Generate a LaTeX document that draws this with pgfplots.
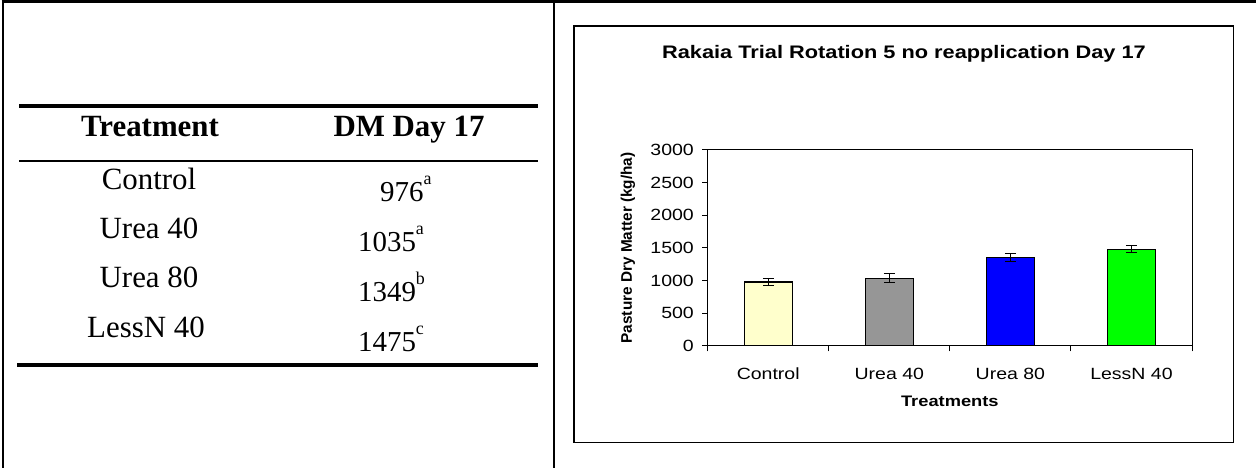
\documentclass[border=0pt]{standalone}
\usepackage{fontspec}
\setmainfont{Liberation Serif}
\newfontfamily\arial{Liberation Sans}
\usepackage{pgfplots}
\pgfplotsset{compat=1.18}
\definecolor{cyel}{HTML}{FFFFCC}
\definecolor{cgray}{HTML}{969696}
\definecolor{cblue}{HTML}{0000FF}
\definecolor{cgreen}{HTML}{00FF00}
\newcommand{\supl}[1]{\raisebox{17bp}{\fontsize{18}{18}\selectfont #1}}
\begin{document}
\begin{tikzpicture}[x=1bp,y=1bp]
\path[use as bounding box] (0,0) rectangle (1256,468);
% outer frame
\draw[line width=2.6bp] (1.7,466.7) -- (1256,466.7);
\draw[line width=2.6bp] (3,0) -- (3,468);
\draw[line width=2.6bp] (554,0) -- (554,468);
% table rules
\draw[line width=4bp] (19,362) -- (538,362);
\draw[line width=2bp] (19,307) -- (538,307);
\draw[line width=4bp] (17,103) -- (538,103);
% table text
\node[anchor=base, inner sep=0pt, font=\fontsize{31}{31}\selectfont\bfseries] at (150,331.3) {Treatment};
\node[anchor=base, inner sep=0pt, font=\fontsize{31}{31}\selectfont\bfseries] at (409,331.3) {DM Day 17};
\node[anchor=base, inner sep=0pt, font=\fontsize{31}{31}\selectfont] at (149,278) {Control};
\node[anchor=base, inner sep=0pt, font=\fontsize{31}{31}\selectfont] at (149,229) {Urea 40};
\node[anchor=base, inner sep=0pt, font=\fontsize{31}{31}\selectfont] at (149,180) {Urea 80};
\node[anchor=base, inner sep=0pt, font=\fontsize{31}{31}\selectfont] at (146,130) {LessN 40};
\node[anchor=base west, inner sep=0pt, font=\fontsize{29}{29}\selectfont] at (380,266) {976\supl{a}};
\node[anchor=base west, inner sep=0pt, font=\fontsize{29}{29}\selectfont] at (358,216) {1035\supl{a}};
\node[anchor=base west, inner sep=0pt, font=\fontsize{29}{29}\selectfont] at (358,166) {1349\supl{b}};
\node[anchor=base west, inner sep=0pt, font=\fontsize{29}{29}\selectfont] at (358,116) {1475\supl{c}};
% chart frame
\draw[line width=1.2bp] (574,25.3) rectangle (1233.7,442);
\node[anchor=base, inner sep=0pt, font=\arial\bfseries\fontsize{18.2}{18.2}\selectfont, xscale=1.2] at (904,409) {Rakaia Trial Rotation 5 no reapplication Day 17};
\begin{axis}[
  at={(707.7bp,122.3bp)}, anchor=south west,
  scale only axis, width=484.3bp, height=195.7bp,
  xmin=-0.5, xmax=3.5, ymin=0, ymax=3000,
  ytick={0,500,1000,1500,2000,2500,3000},
  xtick={0,1,2,3}, xticklabels={Control,Urea 40,Urea 80,LessN 40},
  minor xtick={-0.5,0.5,1.5,2.5,3.5},
  major x tick style={draw=none},
  tick align=outside, tick pos=left,
  major tick length=5.7bp, minor tick length=5.7bp,
  axis line style={line width=1bp},
  every tick/.style={black, line width=1bp},
  /pgf/number format/assume math mode=true,
  /pgf/number format/1000 sep={},
  tick label style={font=\arial\fontsize{16.3}{16.3}\selectfont},
  yticklabel style={anchor=east, inner sep=0pt, xshift=-8bp, xscale=1.2},
  xticklabel style={anchor=base, inner sep=0pt, yshift=-28.6bp, xscale=1.2},
  xlabel={Treatments}, ylabel={Pasture Dry Matter (kg/ha)},
  xlabel style={font=\arial\bfseries\fontsize{15.3}{15.3}\selectfont, at={(axis description cs:0.5,-0.3082)}, anchor=base, inner sep=0pt, xscale=1.2},
  ylabel style={font=\arial\bfseries\fontsize{15.4}{15.4}\selectfont, at={(axis description cs:-0.1646,0.5)}, anchor=center, inner sep=0pt},
  clip=false,
]
\addplot[ybar, bar width=48bp, bar shift=0pt, fill=cyel, draw=black, line width=1.2bp,
  error bars/.cd, y dir=both, y explicit, error bar style={line width=1bp, black}, error mark options={rotate=90, mark size=5.5bp, line width=1bp, black}]
  coordinates {(0,976) +- (0,50)};
\addplot[ybar, bar width=48bp, bar shift=0pt, fill=cgray, draw=black, line width=1.2bp,
  error bars/.cd, y dir=both, y explicit, error bar style={line width=1bp, black}, error mark options={rotate=90, mark size=5.5bp, line width=1bp, black}]
  coordinates {(1,1035) +- (0,66)};
\addplot[ybar, bar width=48bp, bar shift=0pt, fill=cblue, draw=black, line width=1.2bp,
  error bars/.cd, y dir=both, y explicit, error bar style={line width=1bp, black}, error mark options={rotate=90, mark size=5.5bp, line width=1bp, black}]
  coordinates {(2,1349) +- (0,64)};
\addplot[ybar, bar width=48bp, bar shift=0pt, fill=cgreen, draw=black, line width=1.2bp,
  error bars/.cd, y dir=both, y explicit, error bar style={line width=1bp, black}, error mark options={rotate=90, mark size=5.5bp, line width=1bp, black}]
  coordinates {(3,1475) +- (0,54)};
\end{axis}
\end{tikzpicture}
\end{document}
